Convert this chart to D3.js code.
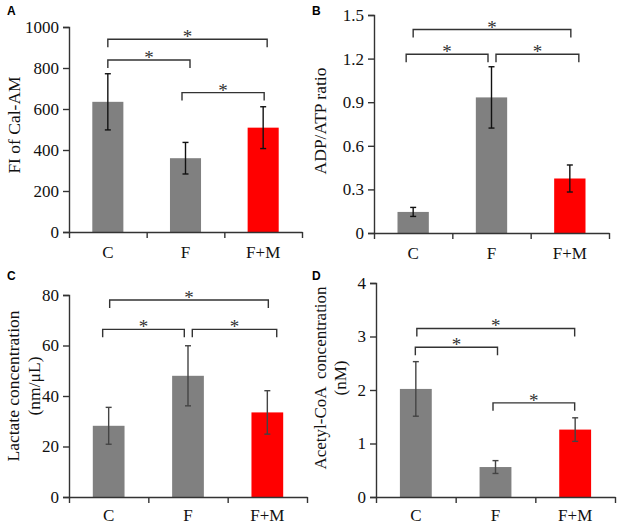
<!DOCTYPE html>
<html>
<head>
<meta charset="utf-8">
<script src="https://cdn.jsdelivr.net/npm/d3@7"></script>
<style>
  body { margin: 0; background: #fff; }
  svg { display: block; }
</style>
</head>
<body>
<svg id="chart" width="617" height="524"></svg>
<script>
// groups
var categories = ["C", "F", "F+M"];

// A: FI of Cal-AM
var fiMean = [635, 360, 509];
var fiErr = [137, 77, 102];
var fiTicks = [0, 200, 400, 600, 800, 1000];
var fiBrackets = [[0, 2, 940], [0, 1, 839], [1, 2, 680]];

// B: ADP/ATP ratio
var adpMean = [0.145, 0.933, 0.375];
var adpErr = [0.031, 0.211, 0.093];
var adpTicks = [0, 0.3, 0.6, 0.9, 1.2, 1.5];
var adpBrackets = [[0, 2, 1.40], [0, 1, 1.23], [1, 2, 1.23]];

// C: lactate
var lacMean = [28.2, 48.0, 33.5];
var lacErr = [7.3, 11.9, 8.6];
var lacTicks = [0, 20, 40, 60, 80];
var lacBrackets = [[0, 2, 78.0], [0, 1, 66.4], [1, 2, 66.4]];

// D: acetyl-CoA
var acoMean = [2.02, 0.56, 1.26];
var acoErr = [0.51, 0.12, 0.22];
var acoTicks = [0, 1, 2, 3, 4];
var acoBrackets = [[0, 2, 3.15], [0, 1, 2.80], [1, 2, 1.76]];

var barColors = ["#808080", "#808080", "#ff0000"];
var serif = "Liberation Serif, Times New Roman, serif";

var panels = [
  {letter: "A", mean: fiMean, err: fiErr, ticks: fiTicks, brackets: fiBrackets,
   fmt: d3.format("d"), title: ["FI of Cal-AM"], fs: 17.5,
   l: 69, r: 302, t: 27, b: 232, lx: 7, ly: 15, tx: [20], ty: 125, ec: "#111", pad: 14,
   nudge: [[0, 4], [0, 4.5], [-3.5, 1]]},
  {letter: "B", mean: adpMean, err: adpErr, ticks: adpTicks, brackets: adpBrackets,
   fmt: function(d) { return d === 0 ? "0" : d3.format(".1f")(d); }, title: ["ADP/ATP ratio"], fs: 17.5,
   l: 374, r: 609, t: 15, b: 233, lx: 312, ly: 15, tx: [326], ty: 121, ec: "#111", pad: 14,
   nudge: [[0, 1], [-7, -3.5], [4.5, 9]]},
  {letter: "C", mean: lacMean, err: lacErr, ticks: lacTicks, brackets: lacBrackets,
   fmt: d3.format("d"), title: ["Lactate concentration", "(nm/\u03bcL)"], fs: 17.5,
   l: 69, r: 307, t: 295, b: 497, lx: 7, ly: 280, tx: [19, 40], ty: 386, ec: "#444", pad: 12,
   nudge: [[1, 1], [-6, -3.7], [4.3, 9.4]]},
  {letter: "D", mean: acoMean, err: acoErr, ticks: acoTicks, brackets: acoBrackets,
   fmt: d3.format("d"), title: ["Acetyl-CoA  concentration", "(nM)"], fs: 17,
   l: 376, r: 615, t: 283, b: 497, lx: 312, ly: 280, tx: [326, 346], ty: 378, ec: "#444", pad: 12,
   nudge: [[1, -0.5], [-0.5, 2], [-2.5, -0.5]]}
];

var svg = d3.select("#chart");

panels.forEach(function(p) {
  var g = svg.append("g");

  var x = d3.scaleBand().domain(categories).range([p.l, p.r])
      .paddingInner(0.6).paddingOuter(0.3);
  var xEdge = d3.scaleLinear().domain([0, 3]).range([p.l, p.r]);
  var y = d3.scaleLinear().domain([p.ticks[0], p.ticks[p.ticks.length - 1]]).range([p.b, p.t]);

  // bars
  g.selectAll(".bar")
    .data(p.mean)
    .enter().append("rect")
    .attr("x", function(d, i) { return x(categories[i]); })
    .attr("y", function(d) { return y(d); })
    .attr("width", x.bandwidth())
    .attr("height", function(d) { return p.b - y(d); })
    .attr("fill", function(d, i) { return barColors[i]; });

  // error bars
  var eb = g.selectAll(".err")
    .data(p.mean)
    .enter().append("g")
    .attr("stroke", p.ec)
    .attr("stroke-width", 1.4);
  eb.append("line")
    .attr("x1", function(d, i) { return x(categories[i]) + x.bandwidth() / 2; })
    .attr("x2", function(d, i) { return x(categories[i]) + x.bandwidth() / 2; })
    .attr("y1", function(d, i) { return y(d + p.err[i]); })
    .attr("y2", function(d, i) { return y(d - p.err[i]); });
  [1, -1].forEach(function(s) {
    eb.append("line")
      .attr("x1", function(d, i) { return x(categories[i]) + x.bandwidth() / 2 - 3; })
      .attr("x2", function(d, i) { return x(categories[i]) + x.bandwidth() / 2 + 3; })
      .attr("y1", function(d, i) { return y(d + s * p.err[i]); })
      .attr("y2", function(d, i) { return y(d + s * p.err[i]); });
  });

  // y axis
  var ya = g.append("g")
    .attr("transform", "translate(" + p.l + ",0)")
    .call(d3.axisLeft(y).tickValues(p.ticks).tickFormat(p.fmt).tickSize(6).tickPadding(4))
    .attr("font-family", serif)
    .attr("font-size", 17);
  ya.select(".domain").attr("stroke", "#333").attr("stroke-width", 1.4);
  ya.selectAll(".tick line").attr("stroke", "#333").attr("stroke-width", 1.4);
  ya.selectAll(".tick text").attr("fill", "#111");

  // x axis: boundary ticks + category labels
  var xa = g.append("g")
    .attr("transform", "translate(0," + p.b + ")")
    .call(d3.axisBottom(xEdge).tickValues([0, 1, 2, 3]).tickFormat("").tickSize(6).tickSizeOuter(0));
  xa.select(".domain").attr("stroke", "#333").attr("stroke-width", 1.4);
  xa.selectAll(".tick line").attr("stroke", "#333").attr("stroke-width", 1.4);

  var xl = g.append("g")
    .attr("transform", "translate(0," + p.b + ")")
    .call(d3.axisBottom(x).tickSize(0).tickPadding(p.pad))
    .attr("font-family", serif)
    .attr("font-size", 17);
  xl.select(".domain").remove();
  xl.selectAll(".tick text").attr("fill", "#111");

  // significance brackets
  var bg = g.selectAll(".br")
    .data(p.brackets)
    .enter().append("g");
  bg.append("path")
    .attr("fill", "none")
    .attr("stroke", "#333")
    .attr("stroke-width", 1.4)
    .attr("d", function(d, i) {
      var x0 = x(categories[d[0]]) + x.bandwidth() / 2 + p.nudge[i][0];
      var x1 = x(categories[d[1]]) + x.bandwidth() / 2 + p.nudge[i][1];
      var yy = y(d[2]);
      return "M" + x0 + "," + (yy + 8) + "V" + yy + "H" + x1 + "V" + (yy + 8);
    });
  bg.append("text")
    .attr("x", function(d, i) {
      var x0 = x(categories[d[0]]) + x.bandwidth() / 2 + p.nudge[i][0];
      var x1 = x(categories[d[1]]) + x.bandwidth() / 2 + p.nudge[i][1];
      return (x0 + x1) / 2;
    })
    .attr("y", function(d) { return y(d[2]) + 4; })
    .attr("text-anchor", "middle")
    .attr("font-family", serif)
    .attr("font-size", 19)
    .attr("fill", "#333")
    .text("*");

  // y title
  p.title.forEach(function(t, k) {
    g.append("text")
      .attr("transform", "translate(" + p.tx[k] + "," + p.ty + ") rotate(-90)")
      .attr("text-anchor", "middle")
      .attr("font-family", serif)
      .attr("font-size", p.fs)
      .attr("fill", "#111")
      .attr("xml:space", "preserve")
      .text(t);
  });

  // panel letter
  g.append("text")
    .attr("x", p.lx)
    .attr("y", p.ly)
    .attr("font-family", "Liberation Sans, Arial, sans-serif")
    .attr("font-weight", "bold")
    .attr("font-size", 12)
    .attr("fill", "#000")
    .text(p.letter);
});
</script>
</body>
</html>
